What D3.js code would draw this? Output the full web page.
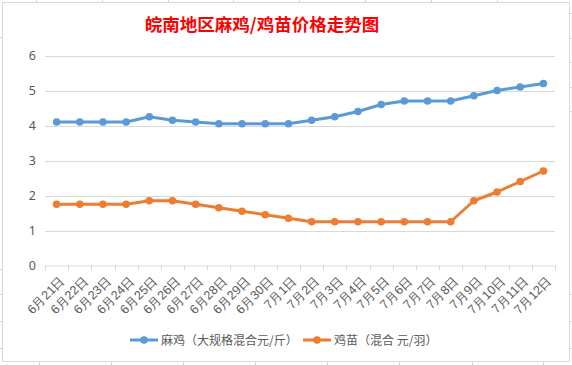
<!DOCTYPE html>
<html>
<head>
<meta charset="utf-8">
<script src="https://cdn.jsdelivr.net/npm/d3@7"></script>
<style>
  body { margin: 0; background: #fff; }
  svg { display: block; font-family: "Noto Sans CJK SC", "Noto Sans", sans-serif; }
</style>
</head>
<body>
<script>
// categories and values
const categories = ['6月21日', '6月22日', '6月23日', '6月24日', '6月25日', '6月26日', '6月27日', '6月28日', '6月29日', '6月30日',
  '7月1日', '7月2日', '7月3日', '7月4日', '7月5日', '7月6日', '7月7日', '7月8日', '7月9日', '7月10日', '7月11日', '7月12日']
const majiPrices = [4.1, 4.1, 4.1, 4.1, 4.25, 4.15, 4.1, 4.05, 4.05, 4.05, 4.05,
  4.15, 4.25, 4.4, 4.6, 4.7, 4.7, 4.7, 4.85, 5.0, 5.1, 5.2]
const miaoPrices = [1.75, 1.75, 1.75, 1.75, 1.85, 1.85, 1.75, 1.65, 1.55, 1.45, 1.35,
  1.25, 1.25, 1.25, 1.25, 1.25, 1.25, 1.25, 1.85, 2.1, 2.4, 2.7]
const yTicks = [0, 1, 2, 3, 4, 5, 6]
const seriesNames = ['麻鸡（大规格混合元/斤）', '鸡苗（混合 元/羽）']
const seriesColors = ['#5B9BD5', '#ED7D31']
const title = '皖南地区麻鸡/鸡苗价格走势图'

const W = 572, H = 365
const plot = {l: 45, r: 555, t: 55.5, b: 265.5}
const textColor = '#595959'
const gridColor = '#D9D9D9'

const svg = d3.select('body').append('svg')
  .attr('width', W)
  .attr('height', H)

// spreadsheet cells peeking out round the chart
const bg = svg.append('g').attr('stroke', '#D4D4D4').attr('stroke-width', 1)
bg.selectAll('line.top').data([36, 102, 168, 233, 299, 365, 431, 497]).join('line')
  .attr('x1', d => d + 0.5).attr('x2', d => d + 0.5).attr('y1', 0).attr('y2', 3)
bg.selectAll('line.bottom').data([39, 111, 183, 255, 327, 399, 472, 543]).join('line')
  .attr('x1', d => d + 0.5).attr('x2', d => d + 0.5).attr('y1', 362).attr('y2', 365)
bg.selectAll('line.left').data([37, 269, 294, 321, 348]).join('line')
  .attr('x1', 0).attr('x2', 2).attr('y1', d => d + 0.5).attr('y2', d => d + 0.5)
bg.selectAll('line.right').data([13, 38, 62, 87, 111, 294, 321, 348]).join('line')
  .attr('x1', 569).attr('x2', 572).attr('y1', d => d + 0.5).attr('y2', d => d + 0.5)

// chart frame
svg.append('rect')
  .attr('x', 2.5).attr('y', 2.5)
  .attr('width', 567).attr('height', 359)
  .attr('fill', '#fff')
  .attr('stroke', gridColor)

svg.append('text')
  .attr('x', 262)
  .attr('y', 31)
  .attr('text-anchor', 'middle')
  .attr('fill', '#FF0000')
  .attr('font-size', '17.5px')
  .attr('font-weight', 'bold')
  .text(title)

const x = d3.scaleBand().domain(categories).range([plot.l, plot.r])
const y = d3.scaleLinear().domain([0, 6]).range([plot.b, plot.t])
const cx = d => x(d) + x.bandwidth() / 2

// gridlines
svg.append('g')
  .selectAll('line')
  .data(yTicks.filter(d => d > 0))
  .join('line')
    .attr('x1', plot.l).attr('x2', plot.r)
    .attr('y1', d => Math.round(y(d)) + 0.5).attr('y2', d => Math.round(y(d)) + 0.5)
    .attr('stroke', gridColor)

// y axis labels
const yAxis = svg.append('g')
  .attr('transform', `translate(${plot.l - 9},0)`)
  .call(d3.axisLeft(y).tickValues(yTicks).tickFormat(d3.format('d')).tickSize(0).tickPadding(0))
yAxis.select('.domain').remove()
yAxis.selectAll('text')
  .attr('fill', textColor)
  .attr('font-size', '12.5px')
  .attr('font-family', '"Noto Sans", sans-serif')

// x axis line + boundary ticks
const xAxisG = svg.append('g')
xAxisG.append('line')
  .attr('x1', plot.l).attr('x2', plot.r)
  .attr('y1', plot.b + 0.5).attr('y2', plot.b + 0.5)
  .attr('stroke', gridColor)
const bounds = categories.map(c => x(c)).concat([plot.r])
xAxisG.selectAll('line.tk').data(bounds).join('line')
  .attr('class', 'tk')
  .attr('x1', d => Math.round(d) + 0.5).attr('x2', d => Math.round(d) + 0.5)
  .attr('y1', plot.b).attr('y2', plot.b + 5)
  .attr('stroke', gridColor)

// category labels, rotated
const xLab = svg.append('g')
  .attr('transform', `translate(0,${plot.b})`)
  .call(d3.axisBottom(x).tickSize(0).tickPadding(0))
xLab.select('.domain').remove()
xLab.selectAll('text')
  .attr('fill', textColor)
  .attr('font-size', '12.5px')
  .style('text-anchor', 'end')
  .attr('dy', 0)
  .attr('transform', 'translate(9,16) rotate(-45)')

// lines and markers
const series = [majiPrices, miaoPrices]
const line = d3.line()
  .x((d, i) => cx(categories[i]))
  .y(d => y(d))

series.forEach((vals, s) => {
  svg.append('path')
    .datum(vals)
    .attr('d', line)
    .attr('fill', 'none')
    .attr('stroke', seriesColors[s])
    .attr('stroke-width', 3)
    .attr('stroke-linejoin', 'round')
  svg.append('g')
    .selectAll('circle')
    .data(vals)
    .join('circle')
      .attr('cx', (d, i) => cx(categories[i]))
      .attr('cy', d => y(d))
      .attr('r', 3.8)
      .attr('fill', seriesColors[s])
})

// legend
const legendX = [130, 303]
const legend = svg.append('g')
seriesNames.forEach((name, i) => {
  const g = legend.append('g').attr('transform', `translate(${legendX[i]},340)`)
  g.append('line')
    .attr('x1', 0).attr('x2', 28)
    .attr('stroke', seriesColors[i]).attr('stroke-width', 3)
  g.append('circle').attr('cx', 14).attr('r', 3.8).attr('fill', seriesColors[i])
  g.append('text')
    .attr('x', 31)
    .attr('y', 4.5)
    .attr('fill', textColor)
    .attr('font-size', '12px')
    .text(name)
})
</script>
</body>
</html>
